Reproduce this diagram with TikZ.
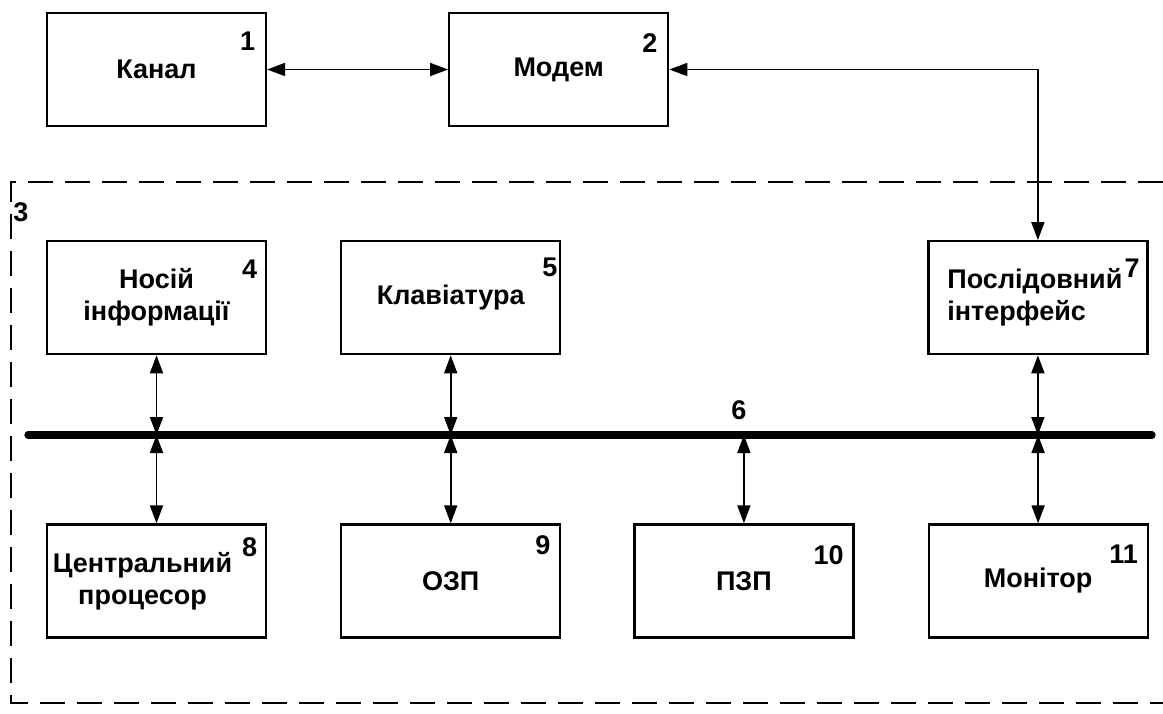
\documentclass[tikz,border=0pt]{standalone}
\usepackage{fontspec}
\setmainfont{Liberation Sans}
\usepackage{tikz}
\usetikzlibrary{arrows.meta, positioning}
\tikzstyle{block} = [rectangle, draw, line width=1.1pt, minimum width=109.5pt, minimum height=56.5pt, inner sep=0pt, align=center]
\tikzstyle{num} = [inner sep=0pt, anchor=north east]
\tikzstyle{bus} = [line width=3.6pt, line cap=round]

\begin{document}
\begin{tikzpicture}[x=0.5pt, y=-0.5pt, font=\fontsize{13.5}{16}\selectfont\bfseries,
		>={Triangle[length=9pt, width=6.5pt]}, line width=0.9pt]
		\useasboundingbox (0,0) rectangle (1163,713);
		
		% top row
		\node [block] (kanal) at (156.5,69.5) {Канал};
		\node [block, right=90.5pt of kanal] (modem) {Модем};
		
		% computer, row above the bus
		\node [block, below=56.5pt of kanal] (media) {Носій\\інформації};
		\node [block, right=36.5pt of media] (keyb) {Клавіатура};
		\node [block, right=183pt of keyb, align=left] (serial) {\hspace*{-3pt}Послідовний\\\hspace*{-3pt}інтерфейс};
		
		% row below the bus
		\node [block, below=84pt of media] (cpu) {\hspace*{-14pt}Центральний\\\hspace*{-14pt}процесор};
		\node [block, right=36.5pt of cpu] (ram) {ОЗП};
		\node [block, right=36pt of ram] (rom) {ПЗП};
		\node [block, right=36.5pt of rom] (monitor) {Монітор};
		
		% numbers
		\node [num, below left=9.5pt and 5.5pt of kanal.north east] (n1) {1};
		\node [num, below left=10.5pt and 5.5pt of modem.north east] (n2) {2};
		\node [num, below left=9.5pt and 4.5pt of media.north east] (n4) {4};
		\node [num, below left=8.5pt and 1.5pt of keyb.north east] (n5) {5};
		\node [num, below left=9pt and 4pt of serial.north east] (n7) {7};
		\node [num, below left=6.5pt and 4.5pt of cpu.north east] (n8) {8};
		\node [num, below left=5.5pt and 5pt of ram.north east] (n9) {9};
		\node [num, below left=10.5pt and 5pt of rom.north east] (n10) {10};
		\node [num, below left=10.5pt and 5pt of monitor.north east] (n11) {11};
		
		% dashed frame of the computer
		\draw [dashed, dash pattern=on 12.5pt off 6pt, line width=1pt] (1163,182) -- (11,182) -- (11,703) -- (1163,703);
		\node [num, anchor=center] (n3) at (21,212) {3};
		
		% bus
		\coordinate (busw) at (28,435);
		\coordinate (buse) at (1152,435);
		\node [num, anchor=center] (n6) at (739,410) {6};
		
		\draw[<->] (kanal) -- (modem);
		\draw[<->] (modem.east) -| (serial.north);
		\draw[<->] (media) -- (media |- busw);
		\draw[<->] (keyb) -- (keyb |- busw);
		\draw[<->] (serial) -- (serial |- busw);
		\draw[<->] (cpu |- busw) -- (cpu);
		\draw[<->] (ram |- busw) -- (ram);
		\draw[<->] (rom |- busw) -- (rom);
		\draw[<->] (monitor |- busw) -- (monitor);
		\draw[bus] (busw) -- (buse);
		
	\end{tikzpicture}
\end{document}
